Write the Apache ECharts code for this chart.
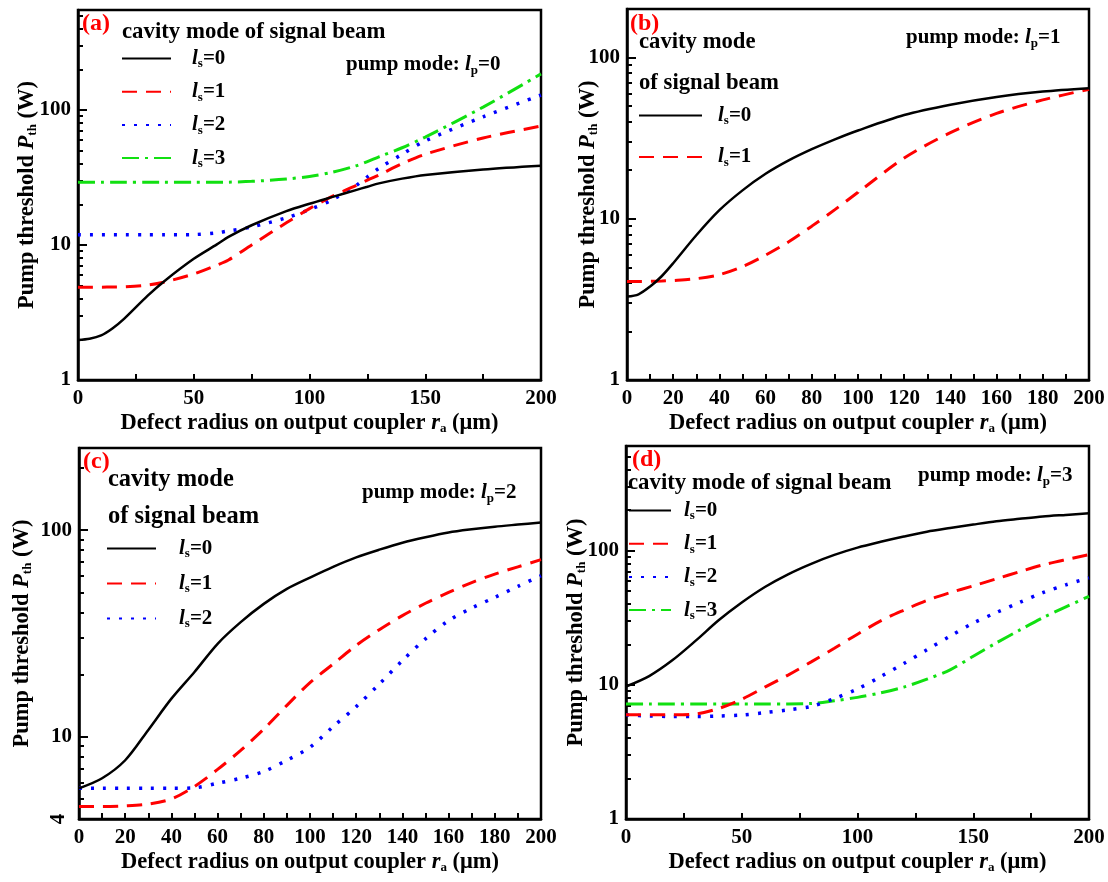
<!DOCTYPE html>
<html>
<head>
<meta charset="utf-8">
<script src="https://cdn.jsdelivr.net/npm/echarts@6/dist/echarts.min.js"></script>
<style>
  html, body { margin: 0; padding: 0; background: #fff; }
  #chart { width: 1108px; height: 882px; }
</style>
</head>
<body>
<div id="chart"></div>
<script>
// defect radius r_a (um) and pump threshold P_th (W)
var xA = [0, 5, 10, 15, 20, 30, 37, 50, 60, 65, 75, 90, 100, 110, 120, 125, 130, 140, 150, 175, 200]
var aLs0 = [1.98, 2.02, 2.14, 2.42, 2.85, 4.2, 5.35, 7.9, 10.1, 11.5, 14, 17.8, 20.2, 22.7, 25.5, 27, 28.6, 31, 33, 36.3, 38.7]
var aLs1 = [4.86, 4.86, 4.87, 4.88, 4.9, 5.05, 5.3, 6.1, 7.1, 7.74, 10, 14.6, 18.6, 23, 27.5, 30.2, 33, 40, 47, 62, 76]
var aLs2 = [11.9, 11.9, 11.9, 11.9, 11.9, 11.9, 11.9, 11.95, 12.3, 12.7, 13.6, 15.9, 18.3, 21.7, 27.5, 32, 37, 47, 59, 89, 129]
var aLs3 = [29.1, 29.1, 29.1, 29.1, 29.1, 29.1, 29.1, 29.1, 29.1, 29.2, 29.6, 30.8, 32.2, 34.6, 38.5, 41.5, 45, 52.5, 63, 105, 185]

var xB = [0, 5, 10, 15, 20, 30, 40, 50, 60, 70, 80, 90, 100, 120, 140, 160, 180, 200]
var bLs0 = [3.29, 3.4, 3.8, 4.4, 5.3, 7.9, 11.3, 15.0, 19.0, 23.0, 27.0, 31.1, 35.3, 44, 51, 57, 61.5, 64.5]
var bLs1 = [4.08, 4.08, 4.09, 4.11, 4.14, 4.25, 4.5, 5.05, 5.95, 7.2, 9.0, 11.4, 14.6, 23.8, 34.2, 45, 54.6, 63.6]

var xC = [0, 10, 20, 30, 40, 50, 60, 70, 80, 90, 100, 110, 120, 130, 140, 150, 160, 170, 180, 190, 200]
var cLs0 = [5.63, 6.3, 7.7, 10.8, 15.3, 20.6, 28.2, 35.9, 44, 52, 59, 66.5, 73.9, 80.5, 87, 92.5, 97.5, 101, 104, 106.5, 109]
var cLs1 = [4.6, 4.6, 4.63, 4.72, 5.0, 5.75, 6.95, 8.6, 10.9, 14.2, 18.3, 22.5, 27.7, 33, 38.6, 44.3, 50, 55.8, 61.3, 66.5, 72]
var cLs2 = [5.63, 5.63, 5.63, 5.63, 5.63, 5.66, 5.96, 6.3, 6.8, 7.7, 8.9, 11.2, 14, 18, 23.4, 29.8, 36.5, 42, 47.3, 53.5, 60.2]

var xD = [0, 10, 20, 30, 40, 50, 60, 70, 80, 90, 100, 110, 120, 130, 140, 150, 160, 170, 180, 190, 200]
var dLs0 = [9.7, 11.6, 15.2, 21.2, 30.2, 41, 53.5, 66.5, 79.6, 92.7, 105, 116, 127, 138, 147, 156, 165, 172, 179, 184, 189]
var dLs1 = [5.97, 5.97, 5.97, 6.05, 6.65, 7.8, 9.6, 11.8, 14.8, 18.7, 23.8, 29.9, 35.9, 42.5, 48.5, 54.5, 61.5, 69.5, 78, 85.5, 93]
var dLs2 = [5.97, 5.85, 5.8, 5.8, 5.85, 5.95, 6.2, 6.5, 6.9, 7.9, 9.3, 11.5, 14.4, 18.2, 23, 28.8, 34.5, 41, 48.5, 55.5, 62.5]
var dLs3 = [7.2, 7.2, 7.2, 7.2, 7.2, 7.2, 7.2, 7.2, 7.25, 7.6, 8.05, 8.7, 9.6, 11.0, 12.9, 16.3, 20.5, 25.5, 31.5, 38, 45.6]

// axis ranges and ticks
var yMaxA = 550, yMaxB = 200, yMaxC = 250, yMaxD = 600
var yMinA = 1, yMinB = 1, yMinC = 4, yMinD = 1
var yLabels = [1, 10, 100]
var yLabelsC = [10, 100]
var yLabelsCRot = [4]
var majorTicks = [1, 10, 100]
var minorA = [2, 3, 4, 5, 6, 7, 8, 9, 20, 30, 40, 50, 60, 70, 80, 90, 200, 300, 400, 500]
var minorB = [2, 3, 4, 5, 6, 7, 8, 9, 20, 30, 40, 50, 60, 70, 80, 90]
var minorC = [5, 6, 7, 8, 9, 20, 30, 40, 50, 60, 70, 80, 90, 200]
var minorD = [2, 3, 4, 5, 6, 7, 8, 9, 20, 30, 40, 50, 60, 70, 80, 90, 200, 300, 400, 500]

var FONT = '"Liberation Serif", "Times New Roman", serif'
var COLORS = ['#000000', '#ff0000', '#0000ff', '#11e011']
var STYLES = [
    { width: 2.5, type: 'solid' },
    { width: 3, type: [15, 9] },
    { width: 3.5, type: [3, 9] },
    { width: 3, type: [17, 6, 3, 6] }
]

var grids = [
    { left: 78, top: 10, width: 463, height: 370 },
    { left: 627, top: 9, width: 462, height: 371 },
    { left: 79, top: 448, width: 462, height: 371 },
    { left: 626, top: 446, width: 463, height: 373 }
]

function makeRich(size) {
    return {
        t: { fontFamily: FONT, fontWeight: 'bold', fontSize: size, color: '#000', lineHeight: 24 },
        i: { fontFamily: FONT, fontWeight: 'bold', fontStyle: 'italic', fontSize: size, color: '#000', lineHeight: 24 },
        s: { fontFamily: FONT, fontWeight: 'bold', fontSize: 13, color: '#000', lineHeight: 13, verticalAlign: 'bottom' }
    }
}
var baseRich = makeRich(21)
var nameRich = makeRich(22.5)
var tickFont = { color: '#000', fontFamily: FONT, fontWeight: 'bold', fontSize: 21 }

function xAxis(idx, interval) {
    return {
        type: 'value', gridIndex: idx, min: 0, max: 200, interval: interval,
        axisLine: { lineStyle: { color: '#000', width: 2.5 } },
        axisTick: { inside: true, length: 6, lineStyle: { color: '#000', width: 2 } },
        minorTick: { show: true, splitNumber: 2, length: 6, lineStyle: { color: '#000', width: 2 } },
        axisLabel: Object.assign({ margin: 8 }, tickFont),
        splitLine: { show: false },
        name: '{t|Defect radius on output coupler }{i|r}{s|a}{t| (\u03bcm)}',
        nameLocation: 'middle', nameGap: 31, nameMoveOverlap: false,
        nameTextStyle: { rich: nameRich }
    }
}

function yAxes(idx, min, max, labels, minor, gap, rotLabels) {
    return [{
        type: 'log', gridIndex: idx, min: min, max: max, position: 'left',
        axisLine: { lineStyle: { color: '#000', width: 2.5 } },
        axisTick: { inside: true, length: 9, customValues: majorTicks, lineStyle: { color: '#000', width: 2 } },
        axisLabel: Object.assign({ customValues: labels, margin: 7 }, tickFont),
        splitLine: { show: false },
        name: '{t|Pump threshold }{i|P}{s|th}{t| (W)}',
        nameLocation: 'middle', nameGap: gap, nameRotate: 90, nameMoveOverlap: false,
        nameTextStyle: { rich: nameRich }
    }, {
        type: 'log', gridIndex: idx, min: min, max: max, position: 'left', offset: 0,
        axisLine: { show: false },
        axisTick: { inside: true, length: 5, customValues: minor, lineStyle: { color: '#000', width: 2 } },
        axisLabel: rotLabels
            ? Object.assign({ customValues: rotLabels, rotate: 90, margin: 10 }, tickFont)
            : { show: false },
        splitLine: { show: false }
    }]
}

function line(name, idx, xs, ys, ls) {
    return {
        type: 'line', name: name, xAxisIndex: idx, yAxisIndex: idx * 2,
        data: xs.map(function (x, i) { return [x, ys[i]] }),
        symbol: 'none', smooth: 0.3,
        lineStyle: Object.assign({ color: COLORS[ls] }, STYLES[ls]),
        itemStyle: { color: COLORS[ls] },
        z: 10 - ls
    }
}

function legend(names, left, top, width, gap, pad) {
    var rich = {
        i: Object.assign({}, baseRich.i, { padding: [0, 0, 0, pad] }),
        s: baseRich.s,
        n: baseRich.t
    }
    return {
        data: names, orient: 'vertical', left: left, top: top, padding: 0,
        itemWidth: width, itemHeight: 14, itemGap: gap, selectedMode: false,
        itemStyle: { color: 'rgba(0,0,0,0)', borderWidth: 0, opacity: 0 },
        formatter: function (n) { return '{i|l}{s|s}{n|=' + n[1] + '}' },
        textStyle: { rich: rich }
    }
}

function label(x, y, text, size, color) {
    return {
        type: 'text', x: x, y: y, z: 100,
        style: {
            text: text, fill: color || '#000', fontFamily: FONT, fontWeight: 'bold',
            fontSize: size, verticalAlign: 'middle', rich: baseRich
        }
    }
}

function pump(x, y, n) {
    return label(x, y, '{t|pump mode: }{i|l}{s|p}{t|=' + n + '}', 19)
}

var chart = echarts.init(document.getElementById('chart'))

chart.setOption({
    animation: false,
    backgroundColor: '#fff',
    grid: grids.map(function (g) {
        return Object.assign({ show: true, borderColor: '#000', borderWidth: 2.5, backgroundColor: 'transparent' }, g)
    }),
    xAxis: [xAxis(0, 50), xAxis(1, 20), xAxis(2, 20), xAxis(3, 50)],
    yAxis: [].concat(
        yAxes(0, yMinA, yMaxA, yLabels, minorA, 39),
        yAxes(1, yMinB, yMaxB, yLabels, minorB, 27),
        yAxes(2, yMinC, yMaxC, yLabelsC, minorC, 45, yLabelsCRot),
        yAxes(3, yMinD, yMaxD, yLabels, minorD, 38)
    ),
    legend: [
        legend(['a0', 'a1', 'a2', 'a3'], 121, 48, 49, 10.7, 16),
        legend(['b0', 'b1'], 638, 105, 63, 19, 11),
        legend(['c0', 'c1', 'c2'], 106, 538, 49, 12.5, 18),
        legend(['d0', 'd1', 'd2', 'd3'], 628, 500, 42, 10.7, 8)
    ],
    series: [
        line('a0', 0, xA, aLs0, 0), line('a1', 0, xA, aLs1, 1),
        line('a2', 0, xA, aLs2, 2), line('a3', 0, xA, aLs3, 3),
        line('b0', 1, xB, bLs0, 0), line('b1', 1, xB, bLs1, 1),
        line('c0', 2, xC, cLs0, 0), line('c1', 2, xC, cLs1, 1), line('c2', 2, xC, cLs2, 2),
        line('d0', 3, xD, dLs0, 0), line('d1', 3, xD, dLs1, 1),
        line('d2', 3, xD, dLs2, 2), line('d3', 3, xD, dLs3, 3)
    ],
    graphic: [
        label(82, 24, '(a)', 24, '#ff0000'),
        label(122, 32, 'cavity mode of signal beam', 22.8),
        pump(346, 65, 0),
        label(630, 24, '(b)', 24, '#ff0000'),
        label(639, 42, 'cavity mode', 22.7),
        label(639, 83, 'of signal beam', 22.7),
        pump(906, 38, 1),
        label(83, 462, '(c)', 24, '#ff0000'),
        label(108, 480, 'cavity mode', 24.5),
        label(108, 517, 'of signal beam', 24.5),
        pump(362, 493, 2),
        label(632, 460, '(d)', 24, '#ff0000'),
        label(628, 483, 'cavity mode of signal beam', 22.8),
        pump(918, 476, 3)
    ]
})
</script>
</body>
</html>
